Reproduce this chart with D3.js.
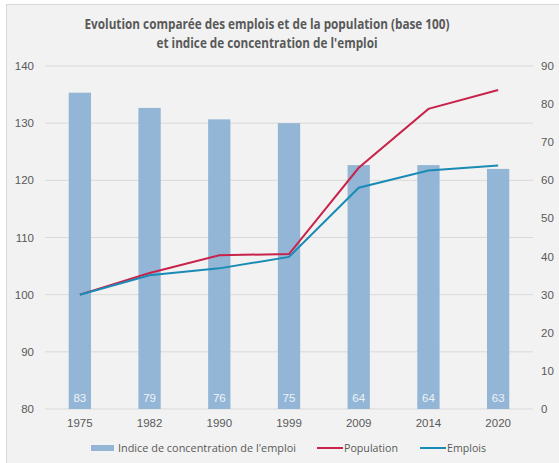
<!DOCTYPE html>
<html>
<head>
<meta charset="utf-8">
<script src="https://cdn.jsdelivr.net/npm/d3@7"></script>
<style>
  body { margin: 0; background: #fff; }
  svg { display: block; }
</style>
</head>
<body>
<svg id="svg"></svg>
<script>
// chart data
const years = ["1975", "1982", "1990", "1999", "2009", "2014", "2020"];
const indice = [83, 79, 76, 75, 64, 64, 63];
const population = [100, 103.8, 106.9, 107.1, 122.2, 132.5, 135.8];
const emplois = [100, 103.4, 104.6, 106.6, 118.7, 121.7, 122.6];
const leftTicks = [80, 90, 100, 110, 120, 130, 140];
const rightTicks = [0, 10, 20, 30, 40, 50, 60, 70, 80, 90];

const width = 559;
const height = 463;
const margin = { top: 66, right: 26, bottom: 54, left: 45 };

let svg = d3.select("#svg").attr("width", width).attr("height", height);

// panel background with left/top border
svg.append("rect").attr("x", 6.5).attr("y", 4.5).attr("width", width).attr("height", height)
    .attr("fill", "#f2f2f2").attr("stroke", "#d9d9d9");

let x = d3.scaleBand().domain(years).range([margin.left, width - margin.right]);
let yL = d3.scaleLinear().domain([80, 140]).range([height - margin.bottom, margin.top]);
let yR = d3.scaleLinear().domain([0, 90]).range([height - margin.bottom, margin.top]);
const cx = d => x(d) + x.bandwidth() / 2;
const barW = x.bandwidth() * 0.32;

// gridlines
svg.append("g").selectAll("line").data(leftTicks).enter().append("line")
    .attr("x1", margin.left).attr("x2", width - margin.right)
    .attr("y1", d => yL(d)).attr("y2", d => yL(d))
    .attr("stroke", "#d9d9d9").attr("stroke-width", 1);

// left axis labels
svg.append("g").selectAll("text").data(leftTicks).enter().append("text")
    .attr("x", 34).attr("y", d => yL(d) + 4)
    .attr("text-anchor", "end")
    .style("font-family", "Liberation Sans, Arial, sans-serif").style("font-size", "11.5px")
    .style("fill", "#595959").text(d => d);

// right axis labels
svg.append("g").selectAll("text").data(rightTicks).enter().append("text")
    .attr("x", 541).attr("y", d => yR(d) + 4)
    .style("font-family", "Liberation Sans, Arial, sans-serif").style("font-size", "11.5px")
    .style("fill", "#595959").text(d => d);

// bars
let bars = years.map((y, i) => ({ year: y, v: indice[i] }));
svg.append("g").selectAll("rect").data(bars).enter().append("rect")
    .attr("x", d => cx(d.year) - barW / 2).attr("width", barW)
    .attr("y", d => yR(d.v)).attr("height", d => yR(0) - yR(d.v))
    .attr("fill", "#94b6d6");

// bar labels
svg.append("g").selectAll("text").data(bars).enter().append("text")
    .attr("x", d => cx(d.year)).attr("y", yR(0) - 7)
    .attr("text-anchor", "middle")
    .style("font-family", "Liberation Sans, Arial, sans-serif").style("font-size", "11.5px")
    .style("fill", "#eef3f8").text(d => d.v);

// x labels
svg.append("g").selectAll("text").data(years).enter().append("text")
    .attr("x", d => cx(d)).attr("y", yL(80) + 18)
    .attr("text-anchor", "middle")
    .style("font-family", "Liberation Sans, Arial, sans-serif").style("font-size", "11.5px")
    .style("fill", "#595959").text(d => d);

// lines
let line = d3.line().x(d => cx(d[0])).y(d => yL(d[1]));
svg.append("path").datum(years.map((y, i) => [y, population[i]]))
    .attr("d", line).attr("fill", "none").attr("stroke", "#c8234a").attr("stroke-width", 2);
svg.append("path").datum(years.map((y, i) => [y, emplois[i]]))
    .attr("d", line).attr("fill", "none").attr("stroke", "#1a8bb5").attr("stroke-width", 2);

// title
let title = svg.append("text").attr("text-anchor", "middle")
    .style("font-family", "Open Sans, sans-serif").style("font-weight", "bold")
    .style("font-size", "13.5px").style("fill", "#595959");
title.append("tspan").attr("x", 267).attr("y", 29)
    .attr("textLength", 365).attr("lengthAdjust", "spacingAndGlyphs")
    .text("Evolution comparée des emplois et de la population (base 100)");
title.append("tspan").attr("x", 267).attr("y", 48)
    .attr("textLength", 221).attr("lengthAdjust", "spacingAndGlyphs")
    .text("et indice de concentration de l'emploi");

// legend
let lg = svg.append("g").style("font-family", "Open Sans, sans-serif").style("font-size", "11.5px").style("fill", "#595959");
lg.append("rect").attr("x", 91).attr("y", 445).attr("width", 23).attr("height", 6).attr("fill", "#94b6d6");
lg.append("text").attr("x", 118).attr("y", 452).attr("textLength", 178).attr("lengthAdjust", "spacingAndGlyphs")
    .text("Indice de concentration de l'emploi");
lg.append("line").attr("x1", 317).attr("x2", 343).attr("y1", 448).attr("y2", 448).attr("stroke", "#c8234a").attr("stroke-width", 2);
lg.append("text").attr("x", 344).attr("y", 452).attr("textLength", 54).attr("lengthAdjust", "spacingAndGlyphs").text("Population");
lg.append("line").attr("x1", 420).attr("x2", 446).attr("y1", 448).attr("y2", 448).attr("stroke", "#1a8bb5").attr("stroke-width", 2);
lg.append("text").attr("x", 447).attr("y", 452).attr("textLength", 39).attr("lengthAdjust", "spacingAndGlyphs").text("Emplois");
</script>
</body>
</html>
